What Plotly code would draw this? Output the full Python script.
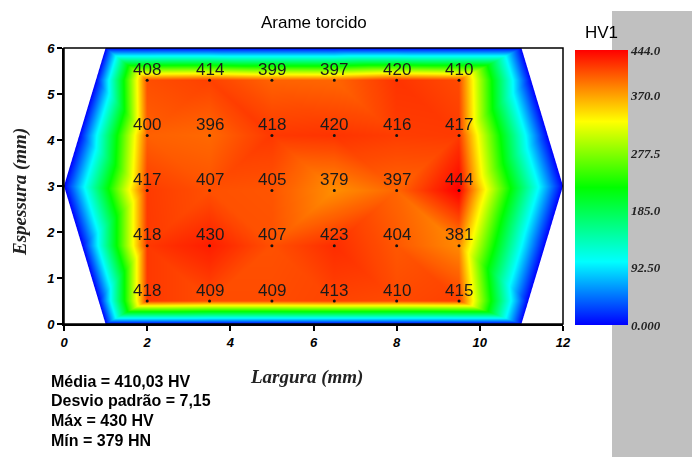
import numpy as np
import plotly.graph_objects as go

# ---------------- data ----------------
X_POS = [2, 3.5, 5, 6.5, 8, 9.5]          # Largura (mm) of the indentations
Y_POS = [0.5, 1.7, 2.9, 4.1, 5.3]         # Espessura (mm) of the indentations
HV = [                                     # rows follow Y_POS (bottom -> top)
    [418, 409, 409, 413, 410, 415],
    [418, 430, 407, 423, 404, 381],
    [417, 407, 405, 379, 397, 444],
    [400, 396, 418, 420, 416, 417],
    [408, 414, 399, 397, 420, 410],
]
HEX_X = [1, 11, 12, 11, 1, 0]             # blanking boundary of the section
HEX_Y = [0, 0, 3, 6, 6, 3]
EDGE_VALUE = 0.0                           # value on the boundary
CBAR_TICKS = [0, 92.5, 185, 277.5, 370, 444]
CBAR_TEXT = ["0.000", "92.50", "185.0", "277.5", "370.0", "444.0"]
X_TICKS = [0, 2, 4, 6, 8, 10, 12]
Y_TICKS = [0, 1, 2, 3, 4, 5, 6]
STATS = ["Média = 410,03 HV", "Desvio padrão = 7,15", "Máx = 430 HV", "Mín = 379 HN"]
TITLE = "Arame torcido"
CBAR_TITLE = "HV1"
X_TITLE = "Largura (mm)"
Y_TITLE = "Espessura (mm)"

# ---------------- build vertex set ----------------
px, py, pv = [], [], []
for r, yv in enumerate(Y_POS):
    for c, xv in enumerate(X_POS):
        px.append(xv); py.append(yv); pv.append(HV[r][c])

ymin, ymax = min(HEX_Y), max(HEX_Y)
ymid = HEX_Y[2]
left_x = [HEX_X[0], HEX_X[5], HEX_X[4]]
right_x = [HEX_X[1], HEX_X[2], HEX_X[3]]
edge_y = [ymin, ymid, ymax]
bx, by = [], []
for xv in X_POS + [HEX_X[0], HEX_X[1]]:
    bx += [xv, xv]; by += [ymin, ymax]
for yv in Y_POS + [ymid]:
    bx.append(float(np.interp(yv, edge_y, left_x))); by.append(yv)
    bx.append(float(np.interp(yv, edge_y, right_x))); by.append(yv)

mx = px + bx
my = py + by
mv = pv + [EDGE_VALUE] * len(bx)

colorscale = [[0.0, "#0000ff"], [0.23, "#00ffff"], [0.5, "#00ff00"],
              [0.74, "#ffff00"], [1.0, "#ff0000"]]

W, H = 692, 457
ML, MR, MT, MB = 64, 129, 48, 133
PW, PH = W - ML - MR, H - MT - MB

def paper_x(pxl):
    return (pxl - ML) / PW

def paper_y(pyl):
    return (H - MB - pyl) / PH

fig = go.Figure()

fig.add_trace(go.Mesh3d(
    x=mx, y=my, z=[0] * len(mx), intensity=mv,
    alphahull=-1, delaunayaxis="z",
    colorscale=colorscale, cmin=CBAR_TICKS[0], cmax=CBAR_TICKS[-1],
    flatshading=True,
    lighting=dict(ambient=1, diffuse=0, specular=0, roughness=1, fresnel=0),
    hoverinfo="skip",
    colorbar=dict(
        x=paper_x(575), xanchor="left", xpad=0,
        y=paper_y(187.5), yanchor="middle", ypad=0,
        len=275, lenmode="pixels", thickness=53, thicknessmode="pixels",
        outlinewidth=0, ticks="", ticklen=2,
        tickvals=CBAR_TICKS, ticktext=CBAR_TEXT,
        tickfont=dict(family="Liberation Serif", size=13, color="#222",
                      weight="bold", style="italic"),
    ),
))

fig.add_trace(go.Scatter(x=px, y=py, mode="markers",
                         marker=dict(size=3, color="black", opacity=0),
                         hoverinfo="skip", showlegend=False))

shapes = [
    dict(type="rect", xref="paper", yref="paper",
         x0=paper_x(612), x1=paper_x(700), y0=paper_y(470), y1=paper_y(11),
         fillcolor="#c0c0c0", line=dict(width=0), layer="below"),
    dict(type="rect", xref="x domain", yref="y domain", x0=0, x1=1, y0=0, y1=1,
         line=dict(color="black", width=1.5), layer="above"),
]
for xv, yv in zip(px, py):
    shapes.append(dict(type="circle", xref="x", yref="y",
                       xsizemode="pixel", ysizemode="pixel",
                       xanchor=xv, yanchor=yv, x0=-1.5, x1=1.5, y0=-1.5, y1=1.5,
                       fillcolor="#111", line=dict(width=0), layer="above"))

annotations = []
for xv, yv, v in zip(px, py, pv):
    annotations.append(dict(x=xv, y=yv, xref="x", yref="y", text=str(v),
                            showarrow=False, yshift=11, xanchor="center", yanchor="middle",
                            font=dict(family="Liberation Sans", size=17, color="#1a1a1a")))

def ann(xp, yp, text, font, **kw):
    d = dict(x=paper_x(xp), y=paper_y(yp), xref="paper", yref="paper", text=text,
             showarrow=False, xanchor="center", yanchor="middle", font=font)
    d.update(kw)
    return d

annotations += [
    ann(313.5, 22, TITLE, dict(family="Liberation Sans", size=17, color="black")),
    ann(601, 33, CBAR_TITLE, dict(family="Liberation Sans", size=17, color="black")),
    ann(306, 377, X_TITLE, dict(family="Liberation Serif", size=19, color="#222",
                                weight="bold", style="italic")),
    ann(20, 192, Y_TITLE, dict(family="Liberation Serif", size=19, color="#222",
                               weight="bold", style="italic"), textangle=-90),
]
for k, line in enumerate(STATS):
    annotations.append(ann(49, 381 + 19.7 * k, line,
                           dict(family="Liberation Sans", size=16, color="black", weight="bold"),
                           xanchor="left"))

tickfont = dict(family="Liberation Sans", size=13, color="black", weight="bold", style="italic")
fig.update_layout(
    width=W, height=H, margin=dict(l=ML, r=MR, t=MT, b=MB),
    paper_bgcolor="white", plot_bgcolor="white", showlegend=False,
    xaxis=dict(range=[0, 12], tickvals=X_TICKS, ticks="outside", ticklen=5,
               tickwidth=1.5, tickcolor="black", showline=True, linecolor="black",
               linewidth=2, showgrid=False, zeroline=False, tickfont=tickfont,
               fixedrange=True),
    yaxis=dict(range=[0, 6], tickvals=Y_TICKS, ticks="outside", ticklen=5,
               tickwidth=1.5, tickcolor="black", showline=True, linecolor="black",
               linewidth=2, showgrid=False, zeroline=False, tickfont=tickfont,
               fixedrange=True),
    scene=dict(
        domain=dict(x=[0, 1], y=[0, 1]),
        xaxis=dict(range=[0, 12], visible=False),
        yaxis=dict(range=[0, 6], visible=False),
        zaxis=dict(range=[-1, 1], visible=False),
        aspectmode="manual", aspectratio=dict(x=2 * PW / PH, y=2, z=0.4),
        bgcolor="rgba(0,0,0,0)",
        camera=dict(eye=dict(x=0, y=0, z=1.2071), up=dict(x=0, y=1, z=0),
                    center=dict(x=0, y=0, z=0),
                    projection=dict(type="orthographic")),
        dragmode=False,
    ),
    shapes=shapes, annotations=annotations,
)

fig.write_html("out.html")
